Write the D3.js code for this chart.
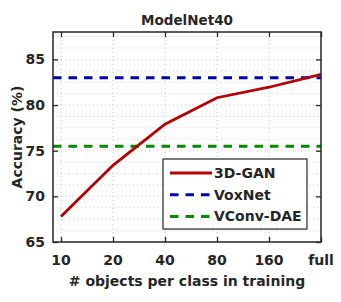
<!DOCTYPE html>
<html lang="en">
<head>
  <meta charset="UTF-8" />
  <title>ModelNet40</title>
  <script src="https://d3js.org/d3.v7.min.js"></script>
  <style>
    html, body { margin: 0; padding: 0; background: #fff; overflow: hidden; }
    svg { display: block; }
    text { font-family: "DejaVu Sans", sans-serif; font-weight: bold; fill: #262626; }
  </style>
</head>
<body>
  <svg id="chart" width="341" height="302"></svg>

  <script>
    const categories = ["10", "20", "40", "80", "160", "full"];
    const ganValues = [67.8, 73.4, 77.9, 80.8, 81.95, 83.35];
    const voxnetValue = 83.0;
    const vconvValue = 75.5;
    const yTicks = [65, 70, 75, 80, 85];

    const svg = d3.select("#chart");
    const margin = { top: 32, right: 20, bottom: 60, left: 53 };
    const width = +svg.attr("width");
    const height = +svg.attr("height");
    const innerWidth = width - margin.left - margin.right;
    const innerHeight = height - margin.top - margin.bottom;

    const red = "#b40000", blue = "#0000b4", green = "#008a00";
    const dash = "8.5,7";

    const g = svg.append("g").attr("transform", `translate(${margin.left},${margin.top})`);

    // index based x so the first category sits a little inside the box
    const x = d3.scaleLinear().domain([-0.154, categories.length - 1]).range([0, innerWidth]);
    const y = d3.scaleLinear().domain([65, 88]).range([innerHeight, 0]);

    // dotted grid: major x, minor y every 1.25
    const gridY = d3.range(65, 88.01, 1.25);
    g.selectAll(".gy").data(gridY).join("line")
      .attr("x1", 0).attr("x2", innerWidth)
      .attr("y1", d => y(d)).attr("y2", d => y(d))
      .attr("stroke", "#c8c8c8").attr("stroke-width", 1)
      .attr("stroke-dasharray", "1,3");
    g.selectAll(".gx").data(categories).join("line")
      .attr("x1", (d, i) => x(i)).attr("x2", (d, i) => x(i))
      .attr("y1", 0).attr("y2", innerHeight)
      .attr("stroke", "#c8c8c8").attr("stroke-width", 1)
      .attr("stroke-dasharray", "1,3");

    svg.append("defs").append("clipPath").attr("id", "clip")
      .append("rect").attr("width", innerWidth + 2).attr("height", innerHeight);
    const plot = g.append("g").attr("clip-path", "url(#clip)");

    plot.append("line")
      .attr("x1", 0).attr("x2", innerWidth)
      .attr("y1", y(voxnetValue)).attr("y2", y(voxnetValue))
      .attr("stroke", blue).attr("stroke-width", 3)
      .attr("stroke-dasharray", dash);
    plot.append("line")
      .attr("x1", 0).attr("x2", innerWidth)
      .attr("y1", y(vconvValue)).attr("y2", y(vconvValue))
      .attr("stroke", green).attr("stroke-width", 3)
      .attr("stroke-dasharray", dash);

    const line = d3.line().x((d, i) => x(i)).y(d => y(d));
    plot.append("path")
      .datum(ganValues)
      .attr("d", line)
      .attr("fill", "none")
      .attr("stroke", red)
      .attr("stroke-width", 2.8);

    // tick marks: inward on all four sides
    const xIdx = d3.range(categories.length);
    g.append("g").attr("transform", `translate(0,${innerHeight})`)
      .call(d3.axisBottom(x).tickValues(xIdx).tickSize(-5).tickFormat(""));
    g.append("g").call(d3.axisTop(x).tickValues(xIdx).tickSize(-5).tickFormat(""));
    g.append("g").call(d3.axisLeft(y).tickValues(yTicks).tickSize(-5).tickFormat(""));
    g.append("g").attr("transform", `translate(${innerWidth},0)`)
      .call(d3.axisRight(y).tickValues(yTicks).tickSize(-5).tickFormat(""));
    g.selectAll(".tick text").remove();
    g.selectAll(".domain").remove();
    g.selectAll(".tick line").attr("stroke", "#262626").attr("stroke-width", 1.3);

    // tick labels
    g.selectAll(".xlab").data(categories).join("text")
      .attr("class", "xlab")
      .attr("x", (d, i) => x(i)).attr("y", innerHeight + 23)
      .attr("text-anchor", "middle").style("font-size", "14px")
      .text(d => d);
    g.selectAll(".ylab").data(yTicks).join("text")
      .attr("class", "ylab")
      .attr("x", -8).attr("y", d => y(d) + 5)
      .attr("text-anchor", "end").style("font-size", "14px")
      .text(d => d);

    g.append("rect")
      .attr("width", innerWidth).attr("height", innerHeight)
      .attr("fill", "none").attr("stroke", "#262626").attr("stroke-width", 1.5);

    // title and labels
    svg.append("text")
      .attr("x", margin.left + innerWidth / 2).attr("y", 25)
      .attr("text-anchor", "middle").style("font-size", "13.5px")
      .text("ModelNet40");
    svg.append("text")
      .attr("x", margin.left + innerWidth / 2).attr("y", 286)
      .attr("text-anchor", "middle").style("font-size", "14px")
      .text("# objects per class in training");
    svg.append("text")
      .attr("transform", `translate(22,${margin.top + innerHeight / 2}) rotate(-90)`)
      .attr("text-anchor", "middle").style("font-size", "14px")
      .text("Accuracy (%)");

    // legend
    const legendItems = [
      { name: "3D-GAN", color: red, dash: null },
      { name: "VoxNet", color: blue, dash: dash },
      { name: "VConv-DAE", color: green, dash: dash }
    ];
    const legend = svg.append("g").attr("transform", "translate(163,159)");
    legend.append("rect")
      .attr("width", 144).attr("height", 70)
      .attr("fill", "#fff").attr("stroke", "#262626").attr("stroke-width", 1.2);
    const item = legend.selectAll(".item").data(legendItems).join("g")
      .attr("transform", (d, i) => `translate(0,${14 + i * 21.7})`);
    item.append("line")
      .attr("x1", 7).attr("x2", 49)
      .attr("stroke", d => d.color).attr("stroke-width", 3)
      .attr("stroke-dasharray", d => d.dash);
    item.append("text")
      .attr("x", 51).attr("dy", "0.36em")
      .style("font-size", "14px")
      .text(d => d.name);
  </script>
</body>
</html>
